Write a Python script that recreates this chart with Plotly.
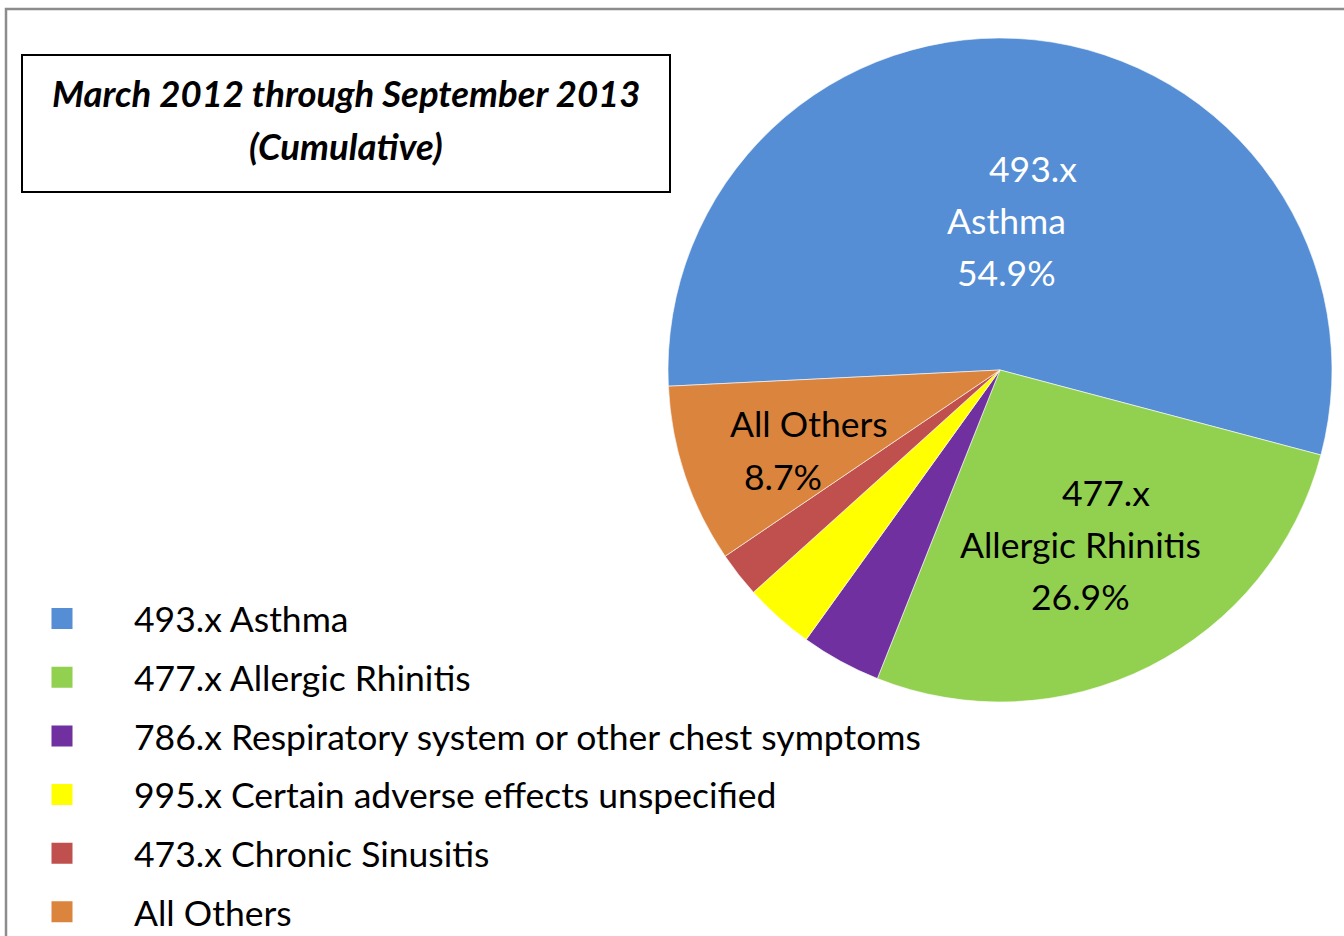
import plotly.graph_objects as go

# ---- data ----
codes = ["493.x", "477.x", "786.x", "995.x", "473.x", ""]
names = ["Asthma", "Allergic Rhinitis", "Respiratory system or other chest symptoms",
         "Certain adverse effects unspecified", "Chronic Sinusitis", "All Others"]
percents = [54.9, 26.9, 3.9, 3.4, 2.2, 8.7]
colors = ["#558ED5", "#92D050", "#7030A0", "#FFFF00", "#C0504D", "#DB843D"]
title_lines = ["March 2012 through September 2013", "(Cumulative)"]

legend_labels = [(c + " " + n).strip() for c, n in zip(codes, names)]

W, H = 1344, 936
FONT = "Lato"

fig = go.Figure()

# pie
cx, cy, r = 1000, 370, 332
fig.add_trace(go.Pie(
    labels=legend_labels, values=percents, sort=False, direction="clockwise",
    rotation=267.2, textinfo="none", hoverinfo="label+percent",
    marker=dict(colors=colors, line=dict(color="white", width=0.6)),
    domain=dict(x=[(cx - r) / W, (cx + r) / W], y=[(H - cy - r) / H, (H - cy + r) / H]),
    showlegend=False,
))

# legend entries (one per category)
for lab, col in zip(legend_labels, colors):
    fig.add_trace(go.Scatter(
        x=[None], y=[None], mode="markers", name=lab, legendgroup=lab,
        marker=dict(symbol="square", size=16, color=col, line=dict(color=col, width=5)),
    ))

# slice labels (three labelled slices)
label_spec = {
    0: dict(color="white", lines=[(codes[0], 1033, 168), (names[0], 1007, 220), (f"{percents[0]}%", 1007, 272)]),
    1: dict(color="black", lines=[(codes[1], 1106, 492), (names[1], 1080, 544), (f"{percents[1]}%", 1080, 596)]),
    5: dict(color="black", lines=[(names[5], 809, 424), (f"{percents[5]}%", 783, 476)]),
}
for i, spec in label_spec.items():
    for txt, px, py in spec["lines"]:
        fig.add_annotation(x=px / W, y=1 - py / H, xref="paper", yref="paper",
                           text=txt, showarrow=False, xanchor="center", yanchor="middle",
                           font=dict(family=FONT, size=35.5, color=spec["color"]))

# title box
bx0, by0, bx1, by1 = 22, 55, 670, 192
fig.add_shape(type="rect", xref="paper", yref="paper",
              x0=bx0 / W, x1=bx1 / W, y0=1 - by1 / H, y1=1 - by0 / H,
              line=dict(color="black", width=2), fillcolor="rgba(0,0,0,0)")
for txt, py in zip(title_lines, [93, 146]):
    fig.add_annotation(x=(bx0 + bx1) / 2 / W, y=1 - py / H, xref="paper", yref="paper",
                       text="<b><i>" + txt + "</i></b>", showarrow=False,
                       xanchor="center", yanchor="middle",
                       font=dict(family=FONT, size=36.5, color="black"))

# outer frame (top and left edges visible)
fig.add_shape(type="rect", xref="paper", yref="paper",
              x0=6 / W, x1=1.2, y0=-0.2, y1=1 - 9 / H,
              line=dict(color="#8C8C8C", width=2.5), fillcolor="rgba(0,0,0,0)")

fig.update_layout(
    width=W, height=H, margin=dict(l=0, r=0, t=0, b=0, autoexpand=False),
    paper_bgcolor="white", plot_bgcolor="white",
    xaxis=dict(visible=False), yaxis=dict(visible=False),
    showlegend=True,
    legend=dict(x=-10 / W, y=1 - 589 / H, xanchor="left", yanchor="top",
                font=dict(family=FONT, size=35.5, color="black"),
                itemwidth=134, tracegroupgap=9.5, bgcolor="rgba(0,0,0,0)",
                itemclick=False, itemdoubleclick=False),
)

fig.write_html("out.html", config={"displayModeBar": False},
               post_script="document.body.style.margin='0';")
